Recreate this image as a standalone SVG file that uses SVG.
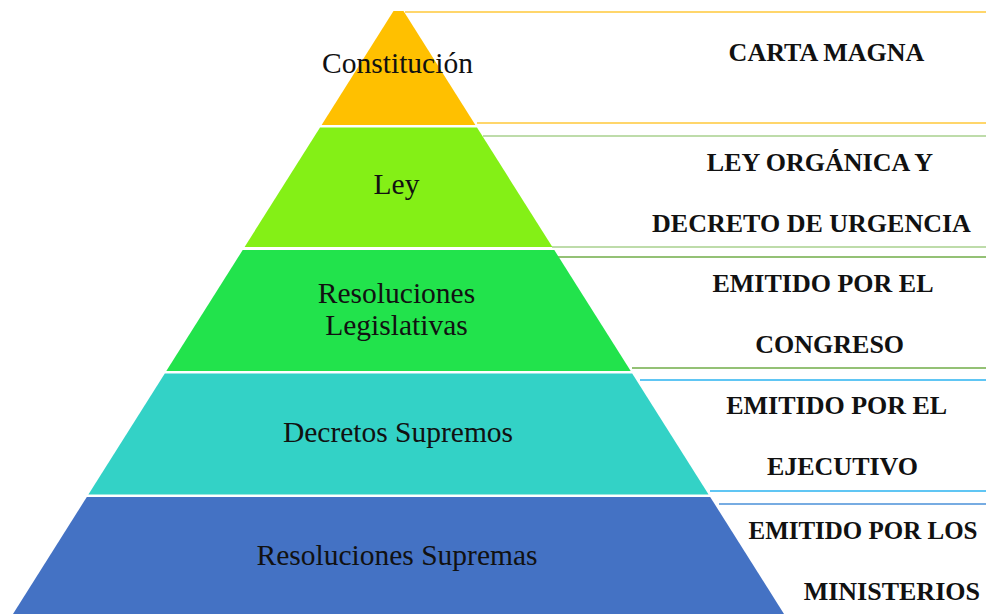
<svg xmlns="http://www.w3.org/2000/svg" width="986" height="614" viewBox="0 0 986 614">
<style>
.lbl{font-family:"Liberation Serif","Times New Roman",serif;font-size:29.5px;fill:#111;text-anchor:middle}
.rt{font-family:"Liberation Serif","Times New Roman",serif;font-size:26px;font-weight:bold;fill:#111;text-anchor:middle}
.ln{stroke-width:1.6;fill:none}
.o{stroke:#FFC83A}.lg{stroke:#A9D18E}.g{stroke:#70AD47}.lb{stroke:#2BB3F0}.b{stroke:#4A90D9}
</style>
<rect width="986" height="614" fill="#fff"/>
<g id="connectors">
<line class="ln o" x1="405" y1="12" x2="986" y2="12"/>
<line class="ln o" x1="477" y1="123" x2="986" y2="123"/>
<line class="ln lg" x1="483" y1="136" x2="986" y2="136"/>
<line class="ln lg" x1="552" y1="247" x2="986" y2="247"/>
<line class="ln g" x1="558" y1="257" x2="986" y2="257"/>
<line class="ln g" x1="632" y1="368" x2="986" y2="368"/>
<line class="ln lb" x1="640" y1="380" x2="986" y2="380"/>
<line class="ln lb" x1="710" y1="491" x2="986" y2="491"/>
<line class="ln b" x1="719" y1="504" x2="986" y2="504"/>
</g>
<g id="constitucion">
<polygon points="393.5,11 403.5,11 475.4,125 321.6,125" fill="#FFC000"/>
<text class="lbl" x="397.5" y="72.5">Constitución</text>
<text class="rt" x="826.5" y="60.5">CARTA MAGNA</text>
</g>
<g id="ley">
<polygon points="320,127.5 477,127.5 552.4,247 244.6,247" fill="#84F016"/>
<text class="lbl" x="396.5" y="194">Ley</text>
<text class="rt" x="820" y="170.5">LEY ORGÁNICA Y</text>
<text class="rt" x="811.5" y="231.5">DECRETO DE URGENCIA</text>
</g>
<g id="resoluciones-legislativas">
<polygon points="242.7,250 554.3,250 630.7,371 166.3,371" fill="#22E34C"/>
<text class="lbl" x="396.5" y="303">Resoluciones</text>
<text class="lbl" x="396.5" y="335">Legislativas</text>
<text class="rt" x="823" y="291.5">EMITIDO POR EL</text>
<text class="rt" x="829.7" y="353">CONGRESO</text>
</g>
<g id="decretos-supremos">
<polygon points="164.8,373.5 632.2,373.5 708.6,494.5 88.4,494.5" fill="#33D2C6"/>
<text class="lbl" x="398" y="442">Decretos Supremos</text>
<text class="rt" x="836.7" y="414">EMITIDO POR EL</text>
<text class="rt" x="842.5" y="475">EJECUTIVO</text>
</g>
<g id="resoluciones-supremas">
<polygon points="86.8,497 710.2,497 787.8,620 9.2,620" fill="#4472C4"/>
<text class="lbl" x="397" y="565">Resoluciones Supremas</text>
<text class="rt" x="863" y="539.3" textLength="229" lengthAdjust="spacingAndGlyphs">EMITIDO POR LOS</text>
<text class="rt" x="891.8" y="600">MINISTERIOS</text>
</g>
</svg>
